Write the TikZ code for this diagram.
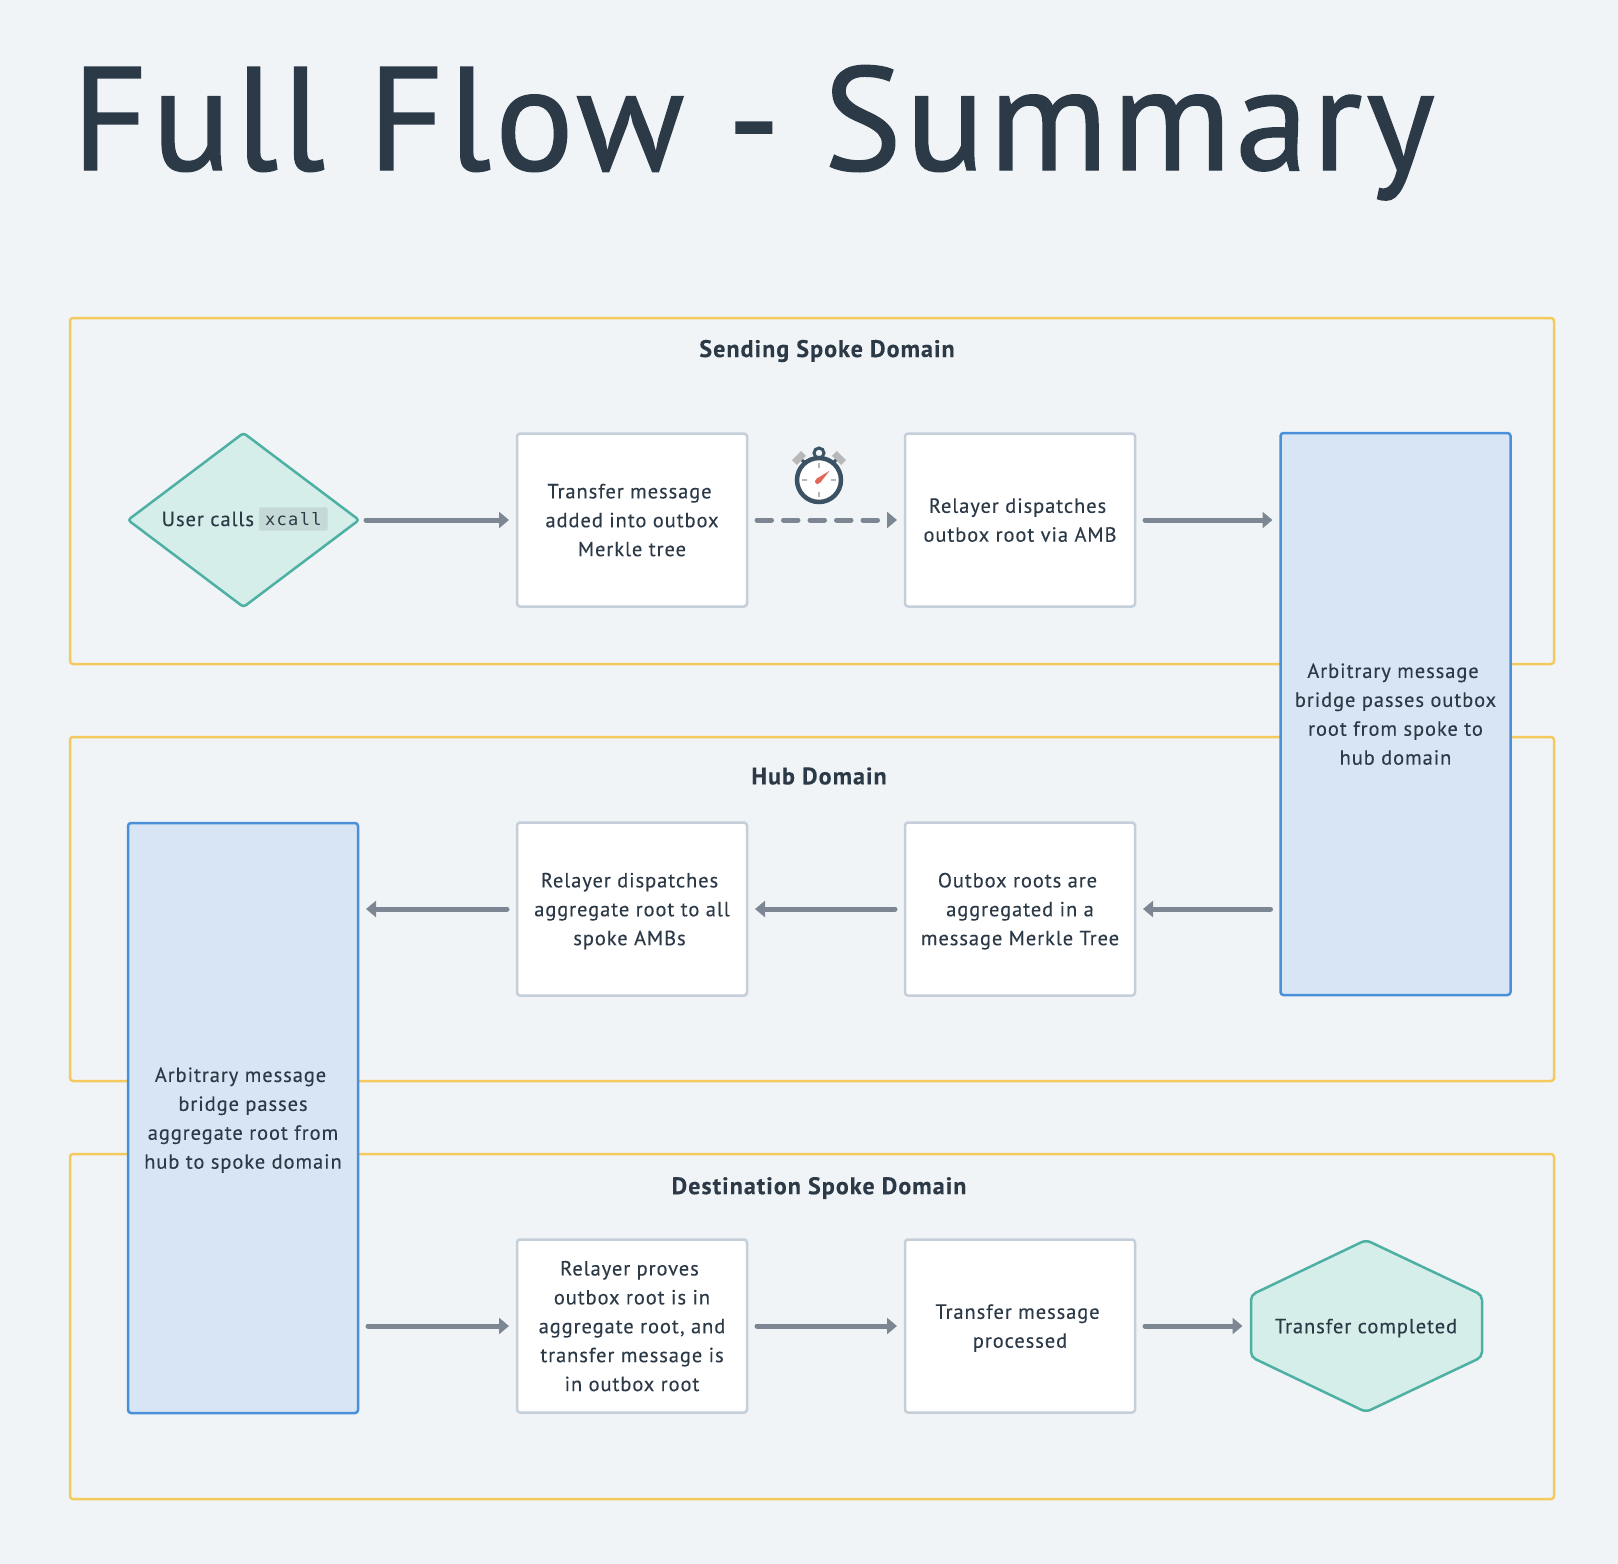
\documentclass[tikz,border=0pt]{standalone}
\usepackage{fontspec}
\setmainfont{PT Sans}[LetterSpace=4.5,FakeBold=0.2]
\setmonofont{DejaVu Sans Mono}[LetterSpace=8]
\newfontfamily\titlefont{PT Sans}[LetterSpace=2.7,FakeBold=1]
\usetikzlibrary{positioning,arrows.meta,shapes.geometric}
\definecolor{pagebg}{HTML}{F0F4F7}
\definecolor{inkdark}{HTML}{2C3A47}
\definecolor{framey}{HTML}{F4C95D}
\definecolor{boxline}{HTML}{C5CFDA}
\definecolor{ambline}{HTML}{4A90D9}
\definecolor{ambfill}{HTML}{D8E5F5}
\definecolor{tealline}{HTML}{4DB0A2}
\definecolor{tealfill}{HTML}{D5EEEA}
\definecolor{chipfill}{HTML}{C5DAD7}
\definecolor{flowgray}{HTML}{7D8794}
\definecolor{clockink}{HTML}{3A5264}
\definecolor{clockgray}{HTML}{B8B8B8}
\definecolor{clockhand}{HTML}{E0685A}
\newcommand{\tsp}{\hspace*{5pt}}
\begin{document}
\begin{tikzpicture}[x=1pt,y=-1pt,inner sep=0pt,outer sep=0pt,text=inkdark,
font=\fontsize{20.5}{28.9}\selectfont,
domainframe/.style={draw=framey,line width=2.5pt,rounded corners=3pt},
domainlabel/.style={font=\fontsize{24}{28}\selectfont\bfseries},
textlines/.style={align=center,text depth=0pt},
stepblock/.style={textlines,draw=boxline,fill=white,line width=2.5pt,rounded corners=3pt,minimum width=230pt,minimum height=173pt},
ambblock/.style={textlines,draw=ambline,fill=ambfill,line width=2.5pt,rounded corners=3pt,minimum width=230pt},
flow/.style={draw=flowgray,line width=5pt,line cap=round,-{Triangle[length=10pt,width=16pt]},shorten <=10pt,shorten >=8pt}]
\useasboundingbox (0,0) rectangle (1618,1564);
\fill[pagebg] (0,0) rectangle (1618,1564);
\node[anchor=base west,font=\fontsize{147}{147}\titlefont] (title) at (72,170) {Full Flow - Summary};
% the three domains
\draw[domainframe] (70,318) rectangle (1554,664);
\draw[domainframe] (70,737) rectangle (1554,1081);
\draw[domainframe] (70,1154) rectangle (1554,1499);
\node[domainlabel] (sendlabel) at (827,351) {Sending Spoke Domain};
\node[domainlabel] (hublabel) at (819,776) {Hub Domain};
\node[domainlabel] (destlabel) at (819,1188) {Destination Spoke Domain};
% sending spoke
\node[diamond,draw=tealline,fill=tealfill,line width=2.5pt,rounded corners=3pt,aspect=1.33,minimum width=231pt,minimum height=174pt] (user) at (243.5,520) {};
\node[anchor=east] (calls) at (254,519) {User calls};
\node[right=5pt of calls,fill=chipfill,rounded corners=2pt,inner xsep=6pt,inner ysep=5pt,font=\fontsize{17}{20}\ttfamily] (xcall) {xcall};
\node[stepblock] (tree) at (632,520) {Transfer message\tsp\\added into outbox\tsp\\Merkle tree};
\node[stepblock] (dispatch) at (1020,520) {Relayer dispatches\tsp\\outbox root via AMB};
\node[ambblock,minimum height=562pt] (ambhub) at (1395.5,714) {Arbitrary message\tsp\\bridge passes outbox\\root from spoke to\tsp\\hub domain};
\draw[flow,shorten <=7pt] (user) -- (tree);
\draw[flow,dash pattern=on 14.5pt off 12pt] (tree) -- (dispatch);
\draw[flow] (dispatch) -- (dispatch -| ambhub.west);
% timer over the dashed arrow
\begin{scope}[shift={(819,480)}]
\draw[line width=7pt,clockgray] (-24.6,-17.4) -- (-15.4,-26.6);
\draw[line width=7pt,clockgray] (24.6,-17.4) -- (15.4,-26.6);
\draw[line width=3pt,clockink] (-14,-17) -- (-17,-20) (14,-17) -- (17,-20);
\draw[line width=3pt,clockink] (0,-27) circle (5);
\draw[line width=4.5pt,clockink,fill=white] (0,0) circle (22);
\draw[line width=2.5pt,clockgray] (0,-17) -- (0,-12) (0,17) -- (0,12) (-17,0) -- (-12,0) (17,0) -- (12,0);
\fill[clockhand] (-3,-1) -- (10.6,-9.3) -- (1,3) -- cycle;
\fill[clockhand] (-1.5,1.5) circle (2.5);
\end{scope}
% hub
\node[stepblock] (aggregate) at (1020,909) {Outbox roots are\tsp\\aggregated in a\\message Merkle Tree};
\node[stepblock] (allambs) at (632,909) {Relayer dispatches\tsp\\aggregate root to all\tsp\\spoke AMBs\tsp};
\node[ambblock,minimum height=590pt] (ambdest) at (243,1118) {Arbitrary message\tsp\\bridge passes\tsp\\aggregate root from\tsp\\hub to spoke domain};
\draw[flow] (aggregate -| ambhub.west) -- (aggregate);
\draw[flow] (aggregate) -- (allambs);
\draw[flow] (allambs) -- (allambs -| ambdest.east);
% destination spoke
\node[stepblock] (proves) at (632,1326) {Relayer proves\tsp\\outbox root is in\tsp\\aggregate root, and\tsp\\transfer message is\tsp\\in outbox root};
\node[stepblock] (processed) at (1020,1326) {Transfer message\tsp\\processed};
\draw[draw=tealline,fill=tealfill,line width=2.5pt,rounded corners=5pt] (1366,1240) -- (1482,1295) -- (1482,1357) -- (1366,1412) -- (1251,1357) -- (1251,1295) -- cycle;
\node[textlines,minimum width=231pt] (done) at (1366,1326) {Transfer completed};
\draw[flow] (proves -| ambdest.east) -- (proves);
\draw[flow] (proves) -- (processed);
\draw[flow] (processed) -- (done);
\end{tikzpicture}
\end{document}
